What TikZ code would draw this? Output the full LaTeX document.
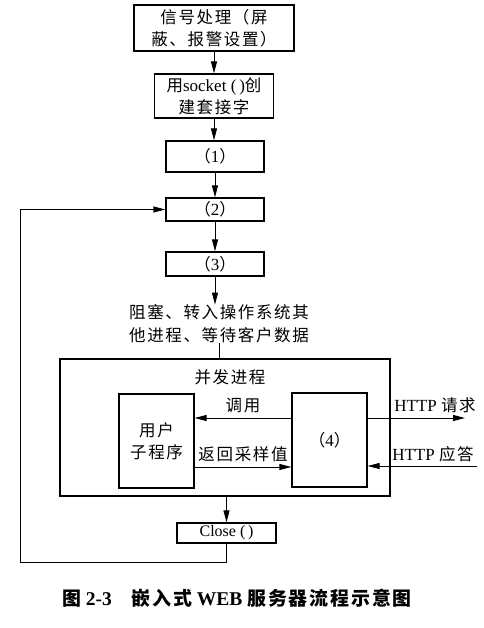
\documentclass[tikz,border=0pt]{standalone}
\usepackage{fontspec}
\setmainfont{Liberation Serif}
\newfontfamily\cjk[LetterSpace=10,Scale=0.97]{Noto Sans CJK SC}
\usetikzlibrary{arrows.meta,positioning}
\newcommand{\zh}[1]{{\cjk #1}}

\begin{document}
\begin{tikzpicture}[
  x=1pt,y=1pt,
  stepbox/.style={draw,line width=1.3pt,inner sep=0pt,align=center,
    font=\fontsize{17}{22}\selectfont},
  lbl/.style={inner sep=0pt,font=\fontsize{17}{23}\selectfont},
  arrow/.style={-{Triangle[length=12pt,width=6pt]},line width=1pt}
]
\useasboundingbox (0,0) rectangle (483,-628);
% main column
\node[stepbox,minimum width=160pt,minimum height=46pt] (sig) at (214,-28)
  {\zh{信号处理（屏}\\\zh{蔽、报警设置）}};
\node[stepbox,minimum width=119pt,minimum height=44pt] (sock) at (214,-96)
  {\zh{用}socket (\,)\zh{创}\\\zh{建套接字}};
\node[stepbox,minimum width=98pt,minimum height=31pt] (p1) at (215,-156.5) {\zh{（}1\zh{）}};
\node[stepbox,minimum width=98pt,minimum height=23pt] (p2) at (215,-209.5) {\zh{（}2\zh{）}};
\node[stepbox,minimum width=98pt,minimum height=24pt] (p3) at (215,-264) {\zh{（}3\zh{）}};
\node[lbl,align=center] (wait) at (219,-324)
  {\zh{阻塞、转入操作系统其}\\\zh{他进程、等待客户数据}};
% concurrent part
\node[draw,line width=1.3pt,minimum width=330pt,minimum height=137pt] (conc) at (225,-427.5) {};
\node[lbl] (ctitle) at (230,-377) {\zh{并发进程}};
\node[stepbox,minimum width=75pt,minimum height=94pt] (user) at (156.5,-441)
  {\zh{用户}\\\zh{子程序}};
\node[stepbox,minimum width=75pt,minimum height=94pt] (p4) at (329.5,-440) {\zh{（}4\zh{）}};
\node[lbl] (reqlbl) at (435,-405) {HTTP \zh{请求}};
\node[lbl] (resplbl) at (433,-454) {HTTP \zh{应答}};
\node[stepbox,minimum width=99pt,minimum height=20pt,font=\fontsize{16}{20}\selectfont]
  (close) at (226.5,-533) {Close (\,)};
\coordinate (req) at (465,-418);
\coordinate (resp) at (477,-466);
\coordinate (loop) at (20,-562);
% connectors
\draw[arrow] (sig) -- (sock);
\draw[arrow] (sock) -- (sock |- p1.north);
\draw[arrow] (p1) -- (p2);
\draw[arrow] (p2) -- (p3);
\draw[arrow] (p3.south) -- (p3.south |- wait.north);
\draw[line width=1pt] (wait.south) -- (wait.south |- conc.north);
\draw[arrow] ([yshift=22pt]p4.west) -- ([yshift=22pt]p4.west -| user.east)
  node[midway,above=5pt,lbl] {\zh{调用}};
\draw[arrow] ([yshift=-26pt]user.east) -- ([yshift=-26pt]user.east -| p4.west)
  node[midway,above=5pt,lbl] {\zh{返回采样值}};
\draw[arrow] ([yshift=22pt]p4.east) -- (req);
\draw[arrow] (resp) -- ([yshift=-26pt]p4.east);
\draw[arrow] (conc.south -| close) -- (close.north);
\draw[arrow] (close.south) |- (loop) |- (p2.west);
% caption
\node[font=\fontsize{19.5}{22}\selectfont\bfseries] (caption) at (237,-598)
  {\zh{图} 2-3\quad\zh{嵌入式} WEB \zh{服务器流程示意图}};
\end{tikzpicture}
\end{document}
